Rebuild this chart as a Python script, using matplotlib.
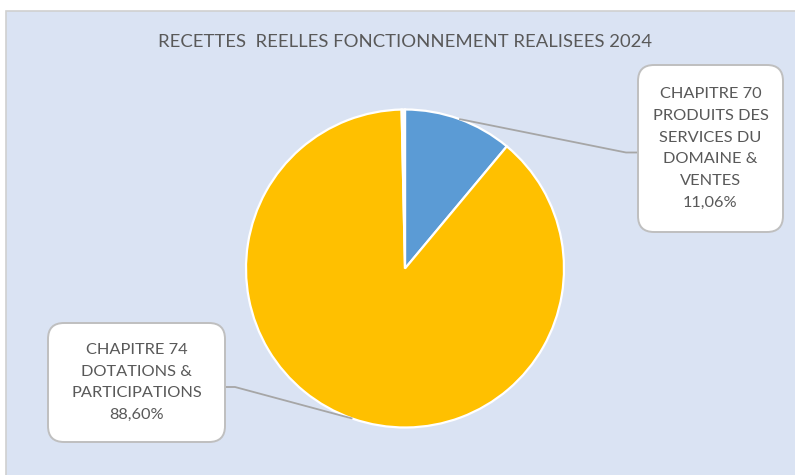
import numpy as np
import matplotlib
matplotlib.use("Agg")
import matplotlib.pyplot as plt
from matplotlib.patches import FancyBboxPatch, Rectangle

title = "RECETTES  REELLES FONCTIONNEMENT REALISEES 2024"
labels = ["CHAPITRE 70\nPRODUITS DES\nSERVICES DU\nDOMAINE &\nVENTES",
          "CHAPITRE 74\nDOTATIONS &\nPARTICIPATIONS",
          ""]
values = [11.06, 88.60, 0.34]
colors = ["#5B9BD5", "#FFC000", "#FFFFFF"]

plt.rcParams['font.family'] = ['Lato', 'DejaVu Sans']

W, H = 795, 475
fig = plt.figure(figsize=(W / 100, H / 100), dpi=100, facecolor='white')
ax = fig.add_axes([0, 0, 1, 1])


def py(y):
    # pixel row (top-down) -> data y
    return H - y


# chart area background
ax.add_patch(Rectangle((6, -5), 800, py(11) + 5, facecolor='#DAE3F3',
                       edgecolor='#D0D0D0', linewidth=1.2, zorder=0))

cx, cy, r = 405, py(268.5), 159
wedges, _ = ax.pie(values, colors=colors, startangle=90, counterclock=False,
                   center=(cx, cy), radius=r,
                   wedgeprops=dict(edgecolor='white', linewidth=1.6))
for w in wedges:
    w.set_zorder(2)

ax.set_xlim(0, W)
ax.set_ylim(0, H)
ax.set_aspect('auto')
ax.axis('off')

ax.text(405, py(42), title, ha='center', va='center', fontsize=13.3,
        color='#595959')

# label boxes: (x0, y0, x1, y1) pixel rows, leader elbow
boxes = [(638, 65, 783, 232), (48, 323, 225, 442)]
elbows = [(626, 152.5, 638), (235, 387, 225)]

for i in range(2):
    w = wedges[i]
    mid = np.deg2rad((w.theta1 + w.theta2) / 2)
    px, pyy = cx + r * np.cos(mid), cy + r * np.sin(mid)
    ex, ey, bx = elbows[i]
    ax.plot([px, ex, bx], [pyy, py(ey), py(ey)], color='#A6A6A6', lw=1.3,
            zorder=3, solid_capstyle='butt')

    x0, y0, x1, y1 = boxes[i]
    ax.add_patch(FancyBboxPatch((x0, py(y1)), x1 - x0, y1 - y0,
                                boxstyle="round,pad=0,rounding_size=16",
                                facecolor='white', edgecolor='#BFBFBF',
                                linewidth=1.4, zorder=4))
    txt = labels[i] + "\n" + f"{values[i]:.2f}".replace('.', ',') + "%"
    ax.text((x0 + x1) / 2, py((y0 + y1) / 2), txt, ha='center', va='center',
            fontsize=11.8, color='#595959', linespacing=1.72, zorder=5)

fig.savefig("out.png", dpi=100, facecolor='white')
